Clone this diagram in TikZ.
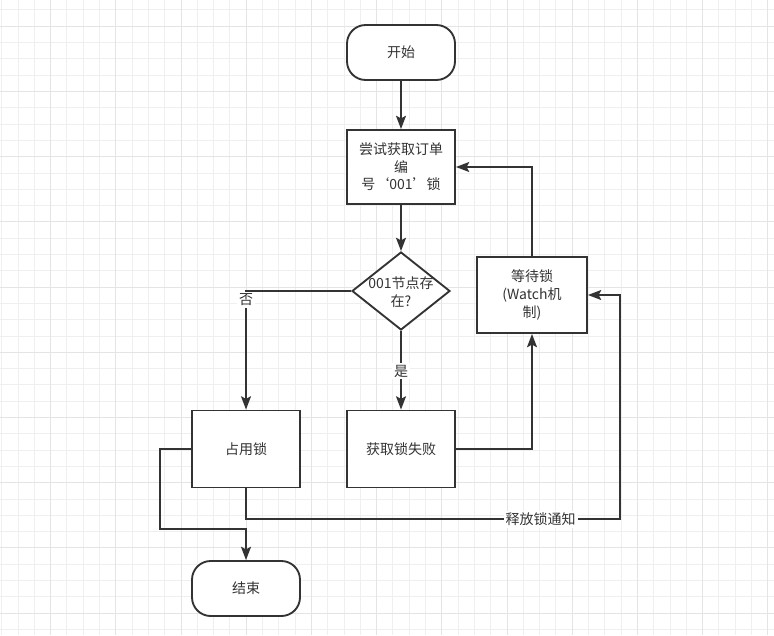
\documentclass[tikz,border=0pt]{standalone}
\usepackage{fontspec}
\setmainfont{Noto Sans CJK SC}
\usetikzlibrary{shapes.geometric,arrows.meta}
\definecolor{ln}{HTML}{333333}
\definecolor{gmin}{HTML}{EFEFEF}
\definecolor{gmaj}{HTML}{E4E4E4}
\begin{document}
\begin{tikzpicture}[x=0.75pt,y=-0.75pt,
  box/.style={draw=ln, line width=1.4pt, fill=white, minimum width=81pt, minimum height=57.75pt, inner sep=2pt, align=center, text=ln, font=\fontsize{10.5}{13.2}\selectfont},
  term/.style={box, rounded corners=14pt, minimum height=41.25pt},
  arr/.style={draw=ln, line width=1.4pt, -{Stealth[length=10pt,width=7.5pt,inset=2pt]}},
  lbl/.style={fill=white, text=ln, inner sep=1.5pt, font=\fontsize{10.5}{12}\selectfont}]
\useasboundingbox (0,0) rectangle (774,635);
\fill[white] (0,0) rectangle (774,635);
\begin{scope}
\clip (0,0) rectangle (774,635);
\foreach \i in {0,...,47} \draw[gmin, line width=0.75pt] ({1.7+16.3*\i},0) -- ({1.7+16.3*\i},635);
\foreach \j in {1,...,39} \draw[gmin, line width=0.75pt] (0,{-6.3+16.3*\j}) -- (774,{-6.3+16.3*\j});
\foreach \i in {3,7,...,47} \draw[gmaj, line width=0.75pt] ({1.7+16.3*\i},0) -- ({1.7+16.3*\i},635);
\foreach \j in {2,6,...,38} \draw[gmaj, line width=0.75pt] (0,{-6.3+16.3*\j}) -- (774,{-6.3+16.3*\j});
\end{scope}

\node[term] (start) at (401,52.5) {开始};
\node[box, minimum height=55.5pt] (try) at (401,167) {尝试获取订单\\编\\号‘001’锁};
\node[draw=ln, line width=1.4pt, fill=white, diamond, minimum width=73.5pt, minimum height=58.5pt, inner sep=0pt] (dec) at (401,291) {};
\node[align=center, text=ln, font=\fontsize{10.5}{13.2}\selectfont, inner sep=0pt] (dectext) at (401,292) {001节点存\\在?};
\node[box, minimum width=82.5pt, minimum height=57pt] (wait) at (532,295) {等待锁\\(Watch机\\制)};
\node[box] (occ) at (246,449) {占用锁};
\node[box] (fail) at (401,449) {获取锁失败};
\node[term] (end) at (246,588.5) {结束};

\coordinate (r1) at (620,519);
\coordinate (l1) at (160,529);

\draw[arr] (start) -- (try);
\draw[arr] (try) -- (dec.north);
\draw[arr] (dec.west) -| node[lbl,pos=0.538]{否} (occ.north);
\draw[arr] (dec.south) -- node[lbl,pos=0.51]{是} (fail.north);
\draw[arr] (fail.east) -| (wait.south);
\draw[arr] (wait.north) |- (try.east);
\draw[arr] (occ.south) |- node[lbl,pos=0.894]{释放锁通知} (r1) |- (wait.east);
\draw[arr] (occ.west) -| (l1) -| (end.north);
\end{tikzpicture}
\end{document}
